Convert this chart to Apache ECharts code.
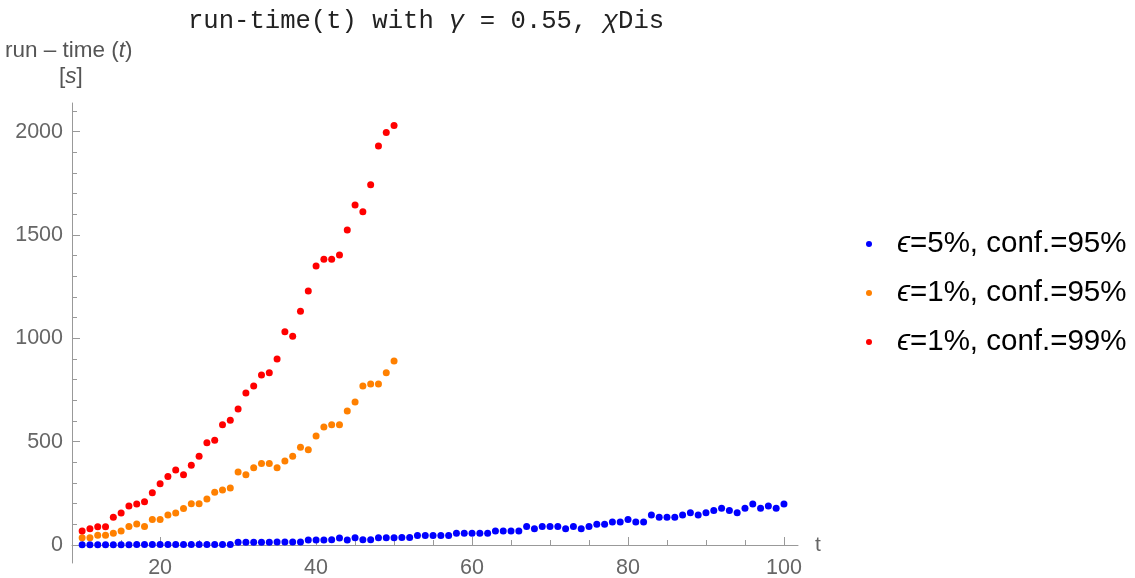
<!DOCTYPE html>
<html>
<head>
<meta charset="utf-8">
<script src="https://cdn.jsdelivr.net/npm/echarts@6/dist/echarts.min.js"></script>
<style>
  html, body { margin: 0; padding: 0; background: #fff; }
  #chart { width: 1135px; height: 578px; }
</style>
</head>
<body>
<div id="chart"></div>
<script>
// t values (run index)
const tAll = [10,11,12,13,14,15,16,17,18,19,20,21,22,23,24,25,26,27,28,29,
  30,31,32,33,34,35,36,37,38,39,40,41,42,43,44,45,46,47,48,49,50,
  51,52,53,54,55,56,57,58,59,60,61,62,63,64,65,66,67,68,69,70,
  71,72,73,74,75,76,77,78,79,80,81,82,83,84,85,86,87,88,89,90,
  91,92,93,94,95,96,97,98,99,100];
const tShort = [10,11,12,13,14,15,16,17,18,19,20,21,22,23,24,25,26,27,28,29,
  30,31,32,33,34,35,36,37,38,39,40,41,42,43,44,45,46,47,48,49,50];

// run-time [s]
const runEps5Conf95 = [1,1,1,1,1,1,1,2,2,2,2,2,2,2,2,3,3,3,3,3,
  13,13,14,14,14,15,15,15,15,24,24,24,25,34,24,35,26,26,35,35,35,
  36,36,46,46,46,46,46,57,57,57,57,57,68,68,68,68,90,79,90,90,
  90,79,90,79,90,101,101,112,112,123,112,112,145,134,134,134,145,156,145,156,
  167,178,167,156,178,199,178,189,178,199];
const runEps1Conf95 = [35,35,47,47,57,68,90,102,90,123,123,145,155,177,200,200,223,255,266,276,
  353,340,374,395,395,374,406,429,473,461,528,571,582,582,649,692,770,779,779,834,891];
const runEps1Conf99 = [68,79,89,89,134,155,189,198,210,253,297,331,363,340,386,429,495,507,582,604,
  658,736,770,823,834,900,1032,1010,1131,1229,1350,1383,1383,1404,1525,1646,1613,1744,1931,1996,2030];

const seriesNames = ['ϵ=5%, conf.=95%', 'ϵ=1%, conf.=95%', 'ϵ=1%, conf.=99%'];
const seriesColors = ['#0000ff', '#ff8000', '#ff0000'];

const xMajorTicks = [20, 40, 60, 80, 100];
const xMinorTicks = [10, 15, 25, 30, 35, 45, 50, 55, 65, 70, 75, 85, 90, 95];
const yMajorTicks = [0, 500, 1000, 1500, 2000];
const yMinorTicks = [100, 200, 300, 400, 600, 700, 800, 900, 1100, 1200, 1300, 1400,
  1600, 1700, 1800, 1900, 2100];

const zip = (xs, ys) => ys.map((v, i) => [xs[i], v]);

const axisGray = '#999999';
const labelGray = '#666666';
const sans = 'Liberation Sans, Arial, sans-serif';

const chart = echarts.init(document.getElementById('chart'), null, { renderer: 'canvas' });

const xBase = { type: 'value', min: 8.7, max: 101.8, splitLine: { show: false } };
const yBase = { type: 'value', min: -87, max: 2139, splitLine: { show: false } };

chart.setOption({
  animation: false,
  backgroundColor: '#ffffff',
  title: {
    text: 'run-time(t) with {g|γ} = 0.55, {g|χ}Dis',
    left: 183,
    top: 3,
    textStyle: {
      fontFamily: 'Liberation Mono, Courier New, monospace',
      fontWeight: 'normal',
      fontSize: 25.6,
      color: '#222222',
      rich: {
        g: { fontFamily: 'Liberation Mono, Courier New, monospace', fontStyle: 'italic', fontSize: 25.6, color: '#222222' }
      }
    }
  },
  grid: { left: 72, top: 103, width: 726, height: 460, containLabel: false, outerBoundsMode: 'none' },
  xAxis: [
    Object.assign({}, xBase, {
      position: 'bottom',
      name: 't',
      nameLocation: 'end',
      nameGap: 17,
      nameTextStyle: { fontFamily: sans, fontSize: 21, color: labelGray, padding: [6, 0, 0, 0] },
      axisLine: { show: true, onZero: true, lineStyle: { color: axisGray, width: 1 } },
      axisTick: { show: true, inside: true, length: 8, customValues: xMajorTicks, lineStyle: { color: axisGray } },
      axisLabel: { show: true, customValues: xMajorTicks, margin: -6, fontFamily: sans, fontSize: 21.5, color: labelGray },
      minorTick: { show: false }
    }),
    Object.assign({}, xBase, {
      position: 'bottom',
      axisLine: { show: false, onZero: true },
      axisTick: { show: true, inside: true, length: 5, customValues: xMinorTicks, lineStyle: { color: axisGray } },
      axisLabel: { show: false }
    })
  ],
  yAxis: [
    Object.assign({}, yBase, {
      position: 'left',
      axisLine: { show: true, onZero: false, lineStyle: { color: axisGray, width: 1 } },
      axisTick: { show: true, inside: true, length: 8, customValues: yMajorTicks, lineStyle: { color: axisGray } },
      axisLabel: { show: true, customValues: yMajorTicks, margin: 9, fontFamily: sans, fontSize: 21.5, color: labelGray,
        formatter: v => String(v) }
    }),
    Object.assign({}, yBase, {
      position: 'left',
      axisLine: { show: false, onZero: false },
      axisTick: { show: true, inside: true, length: 5, customValues: yMinorTicks, lineStyle: { color: axisGray } },
      axisLabel: { show: false }
    })
  ],
  legend: {
    orient: 'vertical',
    left: 866,
    top: 229,
    padding: 0,
    itemGap: 19,
    itemWidth: 6,
    itemHeight: 6,
    icon: 'circle',
    data: seriesNames,
    formatter: name => '{i|' + name.slice(0, 1) + '}{r|' + name.slice(1) + '}',
    textStyle: {
      color: '#000000',
      rich: {
        i: { fontFamily: sans, fontStyle: 'italic', fontSize: 29.5, lineHeight: 32, color: '#000000', padding: [0, 0, 0, 20] },
        r: { fontFamily: sans, fontSize: 29.5, lineHeight: 32, color: '#000000' }
      }
    }
  },
  graphic: [
    {
      type: 'text',
      left: 5,
      top: 39,
      style: {
        text: '{a|run – time (}{i|t}{a|)}',
        rich: {
          a: { fontFamily: sans, fontSize: 22.5, fill: '#555555' },
          i: { fontFamily: sans, fontSize: 22.5, fontStyle: 'italic', fill: '#555555' }
        }
      }
    },
    {
      type: 'text',
      left: 59,
      top: 65,
      style: {
        text: '{a|[}{i|s}{a|]}',
        rich: {
          a: { fontFamily: sans, fontSize: 22.5, fill: '#555555' },
          i: { fontFamily: sans, fontSize: 22.5, fontStyle: 'italic', fill: '#555555' }
        }
      }
    }
  ],
  series: [
    { name: seriesNames[0], type: 'scatter', xAxisIndex: 0, yAxisIndex: 0, symbolSize: 7,
      itemStyle: { color: seriesColors[0], opacity: 1 }, data: zip(tAll, runEps5Conf95) },
    { name: seriesNames[1], type: 'scatter', xAxisIndex: 0, yAxisIndex: 0, symbolSize: 7,
      itemStyle: { color: seriesColors[1], opacity: 1 }, data: zip(tShort, runEps1Conf95) },
    { name: seriesNames[2], type: 'scatter', xAxisIndex: 0, yAxisIndex: 0, symbolSize: 7,
      itemStyle: { color: seriesColors[2], opacity: 1 }, data: zip(tShort, runEps1Conf99) }
  ]
});
</script>
</body>
</html>
